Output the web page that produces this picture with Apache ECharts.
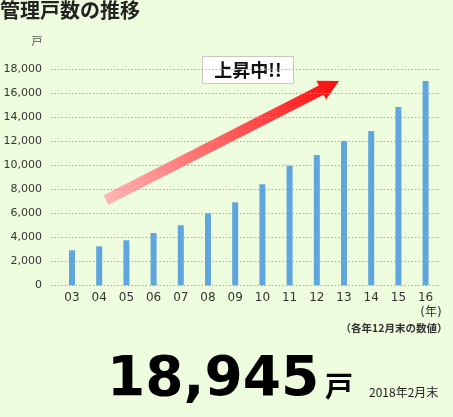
<!DOCTYPE html>
<html lang="ja">
<head>
<meta charset="utf-8">
<title>管理戸数の推移</title>
<script src="https://cdn.jsdelivr.net/npm/echarts@6/dist/echarts.min.js"></script>
<style type="text/css">
html,body{ margin:0; padding:0; background:#effddf;}
#chart{ width:453px; height:417px;}
</style>
</head>
<body>
<div id="chart"></div>
<script>
// データ
var years = ['03','04','05','06','07','08','09','10','11','12','13','14','15','16'];
var units = [2920, 3250, 3750, 4360, 5000, 6000, 6920, 8420, 9940, 10860, 12020, 12860, 14860, 17020];
var yTicks = [0, 2000, 4000, 6000, 8000, 10000, 12000, 14000, 16000, 18000];
var latestValue = '18,945';
var latestDate = '2018年2月末';

var jp = '"Noto Sans CJK JP", sans-serif';
var num = '"DejaVu Sans", "Noto Sans CJK JP", sans-serif';

var dom = document.getElementById('chart');
var chart1 = echarts.init(dom, null, {renderer: 'canvas'});

// 矢印の座標
var S = [106, 200], T = [339, 81];
var dx = T[0] - S[0], dy = T[1] - S[1], len = Math.sqrt(dx * dx + dy * dy);
var u = [dx / len, dy / len], n = [-u[1], u[0]];
var B = [T[0] - 20 * u[0], T[1] - 20 * u[1]];
function p(o, k){ return [o[0] + k * n[0], o[1] + k * n[1]]; }
var arrowPts = [p(S, 5.2), p(S, -5.2), p(B, -5.2), p(B, -10.5), T, p(B, 10.5), p(B, 5.2)];

var option1 = {
  backgroundColor: '#effddf',
  animation: false,
  grid: [
    {left: 51, right: 13, top: 69.3, height: 216},
    {left: 58.4, width: 380.8, top: 69.3, height: 216}
  ],
  xAxis: [
    {gridIndex: 0, type: 'value', min: 0, max: 1, show: false},
    {
      gridIndex: 1, type: 'category', data: years,
      axisLine: {show: false}, axisTick: {show: false},
      axisLabel: {color: '#333', fontSize: 12, fontFamily: num, margin: 7}
    }
  ],
  yAxis: [
    {
      gridIndex: 0, type: 'value', min: 0, max: yTicks[yTicks.length - 1], interval: 2000,
      axisLine: {show: false}, axisTick: {show: false},
      axisLabel: {color: '#333', fontSize: 11, fontFamily: num, margin: 9},
      splitLine: {lineStyle: {color: '#a8a8a8', type: [1.5, 2], width: 1}}
    },
    {gridIndex: 1, type: 'value', min: 0, max: yTicks[yTicks.length - 1], show: false}
  ],
  series: [{
    type: 'bar', xAxisIndex: 1, yAxisIndex: 1,
    data: units, barWidth: 6,
    itemStyle: {color: '#5fa5e0'}
  }],
  graphic: [
    {type: 'text', left: 0, top: 0, style: {text: '管理戸数の推移', font: 'bold 20px ' + jp, fill: '#222'}},
    {type: 'text', x: 37, y: 41, style: {text: '戸', font: '11px ' + jp, fill: '#555', align: 'center', verticalAlign: 'middle'}},
    {
      type: 'polygon', shape: {points: arrowPts},
      style: {fill: new echarts.graphic.LinearGradient(S[0], S[1], T[0], T[1], [
        {offset: 0, color: '#ffb4b4'}, {offset: 1, color: '#ff0d0d'}
      ], true)}
    },
    {type: 'rect', shape: {x: 202.5, y: 56.5, width: 91, height: 27}, style: {fill: '#fff', stroke: '#c6c6c6', lineWidth: 1}},
    {type: 'text', x: 248, y: 70.5, style: {text: '上昇中!!', font: 'bold 18px ' + jp, fill: '#111', align: 'center', verticalAlign: 'middle'}},
    {type: 'text', x: 431, y: 313, style: {text: '(年)', font: '12px ' + num, fill: '#333', align: 'center', verticalAlign: 'middle'}},
    {type: 'text', x: 394, y: 328, style: {text: '（各年12月末の数値）', font: 'bold 10.5px ' + jp, fill: '#333', align: 'center', verticalAlign: 'middle'}},
    {type: 'text', x: 107, y: 381, style: {text: latestValue, font: 'bold 55px ' + num, fill: '#000', verticalAlign: 'middle'}},
    {type: 'text', x: 325, y: 386, style: {text: '戸', font: 'bold 28px ' + jp, fill: '#000', verticalAlign: 'middle'}},
    {type: 'text', x: 369, y: 392.5, style: {text: latestDate, font: '12px ' + jp, fill: '#222', verticalAlign: 'middle'}}
  ]
};

chart1.setOption(option1);
window.addEventListener('resize', function(){ chart1.resize(); });
</script>
</body>
</html>
